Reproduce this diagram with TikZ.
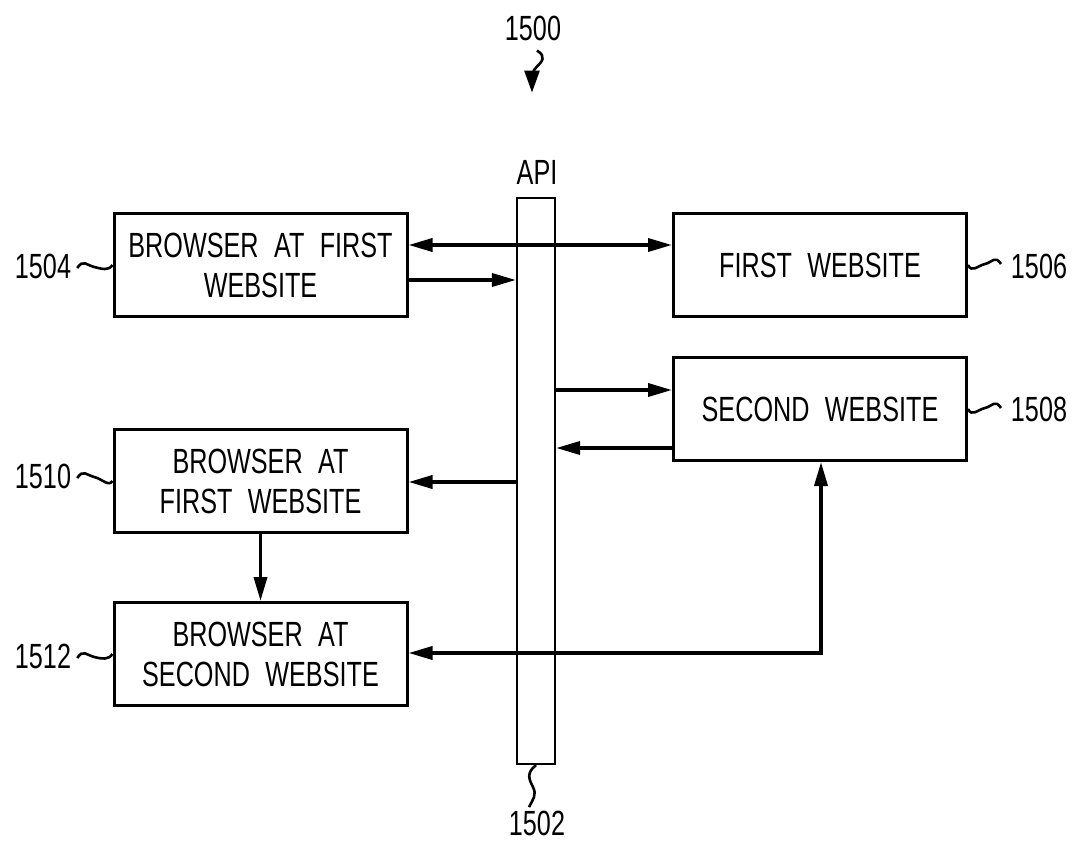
\documentclass[tikz,border=0pt]{standalone}
\usepackage{fontspec}
\setmainfont{Liberation Sans}[FakeStretch=0.72,WordSpace=2.2]
\usetikzlibrary{arrows.meta}
\begin{document}
\begin{tikzpicture}[x=1pt,y=-1pt,
  box/.style={draw,line width=3pt,minimum width=293pt,minimum height=103pt,align=center,inner sep=0pt,font=\fontsize{35}{40}\selectfont},
  lbl/.style={font=\fontsize{35}{40}\selectfont,inner sep=0pt},
  arr/.style={line width=3.6pt,-{Triangle[length=24pt,width=13pt]}},
  darr/.style={line width=3.6pt,{Triangle[length=24pt,width=13pt]}-{Triangle[length=24pt,width=13pt]}},
  sq/.style={line width=2.6pt}]
\useasboundingbox (0,0) rectangle (1080,843);
% API bar
\node[draw,line width=2.2pt,minimum width=38pt,minimum height=566pt,inner sep=0pt] (api) at (536,481) {};
\node[lbl] (apil) at (537,172) {API};
% boxes
\node[box] (b1504) at (260.5,265) {BROWSER AT FIRST\\WEBSITE};
\node[box] (fw) at (820,265) {FIRST WEBSITE};
\node[box] (sw) at (820,409) {SECOND WEBSITE};
\node[box] (b1510) at (260.5,481) {BROWSER AT\\FIRST WEBSITE};
\node[box] (b1512) at (260.5,654) {BROWSER AT\\SECOND WEBSITE};
% connectors
\draw[darr] (b1504.east |- 0,245) -- (fw.west |- 0,245);
\draw[arr] (b1504.east |- 0,280) -- (api.west |- 0,280);
\draw[arr] (api.east |- 0,390) -- (sw.west |- 0,390);
\draw[arr] (sw.west |- 0,448) -- (api.east |- 0,448);
\draw[arr] (api.west |- 0,482) -- (b1510.east |- 0,482);
\draw[arr] (b1510.south) -- (b1512.north);
\coordinate (corner) at (821,653);
\draw[darr] (b1512.east |- corner) -- (corner) -- (sw.south -| corner);
% reference labels
\node[lbl] (l1500) at (533,28) {1500};
\node[lbl] (l1502) at (537,823) {1502};
\node[lbl] (l1504) at (43,266) {1504};
\node[lbl] (l1506) at (1039,266) {1506};
\node[lbl] (l1508) at (1039,409) {1508};
\node[lbl] (l1510) at (43,476) {1510};
\node[lbl] (l1512) at (43,656) {1512};
% squiggles
\draw[sq] (l1504.east) ++(6,2) .. controls +(6,-9) and +(-8,-2) .. ++(17,-1) .. controls +(8,2) and +(-4,6) .. (b1504.west);
\draw[sq] (l1510.east) ++(6,2) .. controls +(6,-9) and +(-8,-2) .. ++(17,-1) .. controls +(8,2) and +(-4,6) .. (b1510.west);
\draw[sq] (l1512.east) ++(6,2) .. controls +(6,-9) and +(-8,-2) .. ++(17,-1) .. controls +(8,2) and +(-4,6) .. (b1512.west);
\draw[sq] (fw.east) .. controls +(4,8) and +(-8,2) .. ++(17,-1) .. controls +(8,-2) and +(-6,-9) .. ++(16,0);
\draw[sq] (sw.east) .. controls +(4,8) and +(-8,2) .. ++(17,-1) .. controls +(8,-2) and +(-6,-9) .. ++(16,0);
\draw[sq] (api.south) .. controls +(-10,8) and +(-4,-8) .. ++(-3,22) .. controls +(4,8) and +(4,-8) .. ++(-4,20);
\draw[line width=2.6pt,-{Triangle[length=22pt,width=15pt]}] (l1500.south) ++(4,10) .. controls +(10,6) and +(6,-6) .. ++(-1,17) .. controls +(-6,6) and +(0,-6) .. ++(-4,25);
\end{tikzpicture}
\end{document}
